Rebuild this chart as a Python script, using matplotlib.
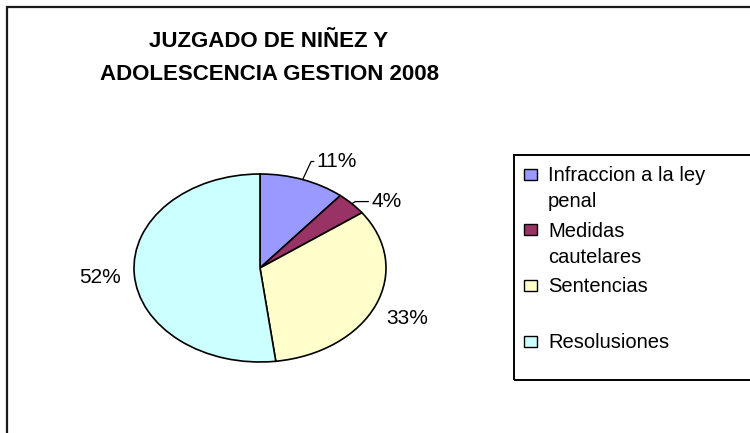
import numpy as np
import matplotlib
matplotlib.use("Agg")
import matplotlib.pyplot as plt
from matplotlib.patches import Rectangle

plt.rcParams['font.family'] = ['Liberation Sans', 'DejaVu Sans']

title = "JUZGADO DE NIÑEZ Y\nADOLESCENCIA GESTION 2008"
categories = ["Infraccion a la ley\npenal", "Medidas\ncautelares", "Sentencias", "Resolusiones"]
values = [11, 4, 33, 52]
pct_labels = ["11%", "4%", "33%", "52%"]
colors = ["#9999FF", "#993366", "#FFFFCC", "#CCFFFF"]

W, H = 750, 433
fig = plt.figure(figsize=(W / 100, H / 100), dpi=100)


def fx(px):
    return px / W


def fy(py):
    return 1 - py / H


# chart area border (runs off the right and bottom edges like the original)
fig.patches.append(Rectangle((fx(7), fy(W)), fx(900), fy(7) - fy(W), transform=fig.transFigure,
                             fill=False, edgecolor='#1a1a1a', linewidth=1.6))

fig.text(fx(269), fy(58), title, ha='center', va='center', fontsize=16,
         fontweight='bold', linespacing=1.8)

# pie drawn as an ellipse: center (260, 268), rx 126, ry 94
cx, cy, rx, ry = 260, 268, 126, 94
ax = fig.add_axes([fx(cx - rx), fy(cy + ry), (2 * rx) / W, (2 * ry) / H])
wedges, _ = ax.pie(values, colors=colors, startangle=90, counterclock=False,
                   wedgeprops=dict(edgecolor='black', linewidth=1.2))
for w in wedges:
    w.set_clip_on(False)
ax.set_aspect('auto')
ax.set_xlim(-1, 1)
ax.set_ylim(-1, 1)
ax.axis('off')

# label placement (offsets in points from the wedge edge)
offsets = [(10, 13), (14, 1.5), (23, -9.4), (-24.5, -2.9)]
align = ['left', 'left', 'center', 'center']
leaders = [65, 30, None, None]

fracs = np.array(values) / sum(values)
starts = np.concatenate([[0], np.cumsum(fracs)[:-1]])
mids = (starts + fracs / 2) * 2 * np.pi
for i, lab in enumerate(pct_labels):
    x, y = np.sin(mids[i]), np.cos(mids[i])
    arrow = None
    if leaders[i] is not None:
        arrow = dict(arrowstyle='-', lw=0.9, color='black', shrinkA=0, shrinkB=0,
                     connectionstyle="angle,angleA=0,angleB=%d,rad=0" % leaders[i])
    ax.annotate(lab, xy=(x, y), xytext=offsets[i], textcoords='offset points',
                ha=align[i], va='center', fontsize=15, arrowprops=arrow,
                annotation_clip=False)

# legend box, drawn by hand like the Excel one
fig.patches.append(Rectangle((fx(514), fy(380)), fx(400), fy(155) - fy(380),
                             transform=fig.transFigure, fill=False,
                             edgecolor='black', linewidth=1.4))
entry_h = 55.7
line_h = 26
for i, cat in enumerate(categories):
    y0 = 174 + i * entry_h
    fig.patches.append(Rectangle((fx(524), fy(y0 + 5.5)), fx(13), fy(y0 - 5.5) - fy(y0 + 5.5),
                                 transform=fig.transFigure, facecolor=colors[i],
                                 edgecolor='black', linewidth=1.0))
    for j, line in enumerate(cat.split("\n")):
        fig.text(fx(548), fy(y0 + 7 + j * line_h), line, ha='left', va='baseline',
                 fontsize=14.5)

fig.savefig("out.png", dpi=100)
